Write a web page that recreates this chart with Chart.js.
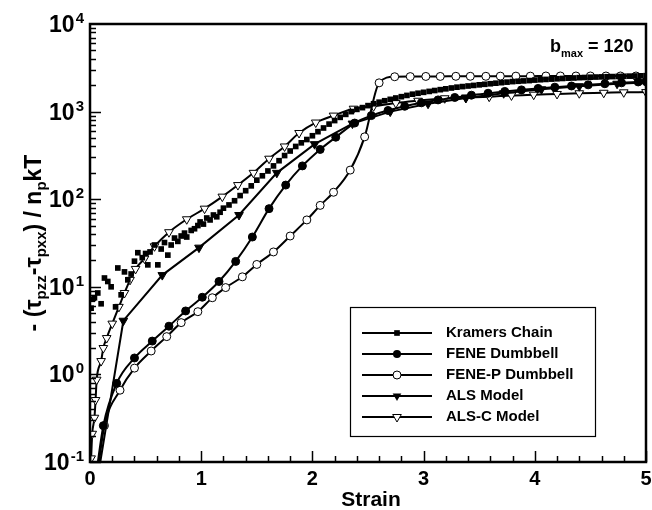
<!DOCTYPE html>
<html>
<head>
<meta charset="utf-8">
<script src="https://cdn.jsdelivr.net/npm/chart.js@4.4.1/dist/chart.umd.min.js"></script>
<style>
  body { margin: 0; background: #fff; }
</style>
</head>
<body>
<canvas id="c" width="652" height="510"></canvas>
<script>
// tick labels
var xTicks = [0, 1, 2, 3, 4, 5];
var yDecades = [-1, 0, 1, 2, 3, 4];

// Kramers chain (scattered squares)
var kramersX = [0.01,0.02,0.04,0.07,0.10,0.13,0.16,0.19,0.23,0.25,0.28,0.31,0.34,0.37,0.40,0.43,0.47,0.50,0.52,0.54,
  0.58,0.61,0.64,0.67,0.70,0.73,0.76,0.79,0.82,0.85,0.87,0.91,0.94,0.97,0.99,1.02,1.05,1.08,1.11,1.14,1.17,1.20,
  1.25,1.30,1.35,1.40,1.45,1.50,1.55,1.60,1.65,1.70,1.75,1.80,1.85,1.90,1.95,2.00,2.05,2.10,2.15,2.20,2.25,2.30,
  2.35,2.40,2.45,2.50,2.55,2.60,2.65,2.70,2.75,2.80,2.85,2.90,2.95,3.00,3.05,3.10,3.15,3.20,3.25,3.30,3.35,3.40,
  3.45,3.50,3.55,3.60,3.65,3.70,3.75,3.80,3.85,3.90,3.95,4.00,4.05,4.10,4.15,4.20,4.25,4.30,4.35,4.40,4.45,4.50,
  4.55,4.60,4.65,4.70,4.75,4.80,4.85,4.90,4.95,5.00];
var kramersY = [5.7,7.2,7.5,8.5,6.4,12.6,11.5,10,5.9,16.4,8.1,14.8,12,14,19.6,24.5,21.5,24,17.8,25,
  30,17.8,27,32,23,30,36,33,38,41,37,44,46,50,55,52,61,58,66,63,71,79,
  86,96,110,125,142,165,185,210,240,275,315,355,400,440,480,530,590,650,720,790,860,930,
  1000,1060,1110,1170,1230,1280,1330,1380,1430,1480,1530,1580,1620,1660,1700,1740,1780,1820,1860,1900,1930,1960,
  1990,2020,2050,2080,2110,2140,2170,2200,2220,2240,2260,2290,2310,2330,2350,2370,2390,2410,2420,2440,2450,2470,
  2480,2490,2500,2510,2520,2530,2540,2550,2560,2570];

// FENE dumbbell
var feneX = [0.06,0.12,0.24,0.40,0.56,0.71,0.86,1.01,1.16,1.31,1.46,1.61,1.76,1.91,2.07,2.21,2.38,2.53,2.68,2.83,
  2.98,3.13,3.28,3.43,3.58,3.73,3.88,4.03,4.18,4.33,4.48,4.63,4.78,4.93,5.00];
var feneY = [0.08,0.26,0.79,1.54,2.4,3.55,5.3,7.6,11.5,19.5,37,78,145,240,370,510,740,900,1030,1150,
  1260,1360,1450,1540,1620,1700,1770,1840,1900,1960,2020,2080,2130,2180,2200];

// FENE-P dumbbell
var fenepX = [0.07,0.13,0.27,0.40,0.55,0.69,0.82,0.97,1.10,1.22,1.37,1.50,1.65,1.80,1.95,2.07,2.19,2.34,2.47,2.60,
  2.74,2.88,3.02,3.15,3.29,3.42,3.56,3.69,3.83,3.96,4.10,4.23,4.37,4.50,4.64,4.77,4.91];
var fenepY = [0.08,0.26,0.66,1.18,1.85,2.7,3.9,5.2,7.5,9.8,13,18,25,38,58,85,120,215,515,2130,
  2500,2510,2520,2520,2530,2530,2530,2540,2540,2540,2550,2550,2550,2550,2550,2550,2550];

// ALS model
var alsX = [0.08,0.30,0.65,0.98,1.34,1.68,2.02,2.36,2.70,3.04,3.38,3.72,4.06,4.40,4.74,5.00];
var alsY = [0.08,4.1,13.6,28,66,200,425,730,1000,1230,1430,1620,1800,1950,2080,2150];

// ALS-C model
var alscX = [0.01,0.02,0.04,0.05,0.06,0.10,0.12,0.15,0.20,0.26,0.31,0.36,0.41,0.49,0.58,0.71,0.87,1.03,1.19,1.33,
  1.47,1.61,1.75,1.88,2.03,2.19,2.37,2.55,2.75,2.95,3.19,3.38,3.59,3.79,3.99,4.20,4.40,4.62,4.80,5.00];
var alscY = [0.11,0.21,0.32,0.51,0.87,1.42,2.0,2.6,3.8,5.9,8.5,12,16,21,29,42,59,78,107,145,
  200,290,400,570,750,900,1080,1150,1250,1330,1420,1450,1480,1530,1560,1590,1620,1640,1660,1670];

var seriesNames = ['Kramers Chain', 'FENE Dumbbell', 'FENE-P Dumbbell', 'ALS Model', 'ALS-C Model'];

function pts(xs, ys) {
  return xs.map(function(v, i) { return {x: v, y: ys[i]}; });
}

var marks = [
  {style: 'rect', fill: '#000', r: 4, rot: 0},
  {style: 'circle', fill: '#000', r: 4, rot: 0},
  {style: 'circle', fill: '#fff', r: 4, rot: 0},
  {style: 'triangle', fill: '#000', r: 5, rot: 180},
  {style: 'triangle', fill: '#fff', r: 5, rot: 180}
];

function lineSet(name, data, m, tension) {
  return {
    label: name,
    data: data,
    showLine: true,
    borderColor: '#000',
    borderWidth: 2,
    tension: tension,
    cubicInterpolationMode: tension ? 'monotone' : 'default',
    pointStyle: m.style,
    pointRotation: m.rot,
    pointRadius: m.r,
    pointBackgroundColor: m.fill,
    pointBorderColor: '#000',
    pointBorderWidth: 1,
    clip: 0
  };
}

function drawMark(ctx, m, x, y) {
  ctx.save();
  ctx.fillStyle = m.fill;
  ctx.strokeStyle = '#000';
  ctx.lineWidth = 1;
  ctx.beginPath();
  if (m.style === 'rect') {
    var s = m.r * Math.SQRT1_2;
    ctx.rect(x - s, y - s, 2 * s, 2 * s);
  } else if (m.style === 'circle') {
    ctx.arc(x, y, m.r, 0, Math.PI * 2);
  } else {
    var h = m.r;
    ctx.moveTo(x, y + h);
    ctx.lineTo(x - h * 0.866, y - h * 0.5);
    ctx.lineTo(x + h * 0.866, y - h * 0.5);
    ctx.closePath();
  }
  ctx.fill();
  if (m.fill === '#fff') ctx.stroke();
  ctx.restore();
}

// text with subscripts: parts = [[text, isSub], ...]
function richWidth(ctx, parts, big, small) {
  var w = 0;
  parts.forEach(function(p) {
    ctx.font = 'bold ' + (p[1] ? small : big) + 'px "Liberation Sans", Arial, sans-serif';
    w += ctx.measureText(p[0]).width;
  });
  return w;
}
function drawRich(ctx, parts, x, y, big, small, drop) {
  parts.forEach(function(p) {
    ctx.font = 'bold ' + (p[1] ? small : big) + 'px "Liberation Sans", Arial, sans-serif';
    ctx.fillText(p[0], x, p[1] ? y + drop : y);
    x += ctx.measureText(p[0]).width;
  });
}

var decor = {
  id: 'decor',
  afterDatasetsDraw: function(chart) {
    var ctx = chart.ctx, a = chart.chartArea;
    var xs = chart.scales.x, ys = chart.scales.y;
    ctx.save();
    ctx.strokeStyle = '#000';
    ctx.fillStyle = '#000';

    // y ticks (inside, left)
    ctx.lineWidth = 1.5;
    for (var k = -1; k < 4; k++) {
      for (var m = 1; m < 10; m++) {
        var py = Math.round(ys.getPixelForValue(m * Math.pow(10, k))) + 0.5;
        ctx.beginPath();
        ctx.moveTo(a.left, py);
        ctx.lineTo(a.left + (m === 1 ? 11 : 6), py);
        ctx.stroke();
      }
    }
    // x ticks (inside, bottom)
    for (var v = 0; v <= 25; v++) {
      var px = Math.round(xs.getPixelForValue(v / 5)) + 0.5;
      ctx.beginPath();
      ctx.moveTo(px, a.bottom);
      ctx.lineTo(px, a.bottom - (v % 5 === 0 ? 11 : 6));
      ctx.stroke();
    }

    // frame
    ctx.lineWidth = 2.5;
    ctx.strokeRect(a.left, a.top, a.right - a.left, a.bottom - a.top);

    // x tick labels
    ctx.font = 'bold 20px "Liberation Sans", Arial, sans-serif';
    ctx.textAlign = 'center';
    ctx.textBaseline = 'alphabetic';
    xTicks.forEach(function(t) {
      ctx.fillText(String(t), xs.getPixelForValue(t), 485);
    });
    ctx.font = 'bold 21px "Liberation Sans", Arial, sans-serif';
    ctx.fillText('Strain', 371, 506);

    // y tick labels 10^k
    ctx.textAlign = 'left';
    yDecades.forEach(function(d) {
      var py = ys.getPixelForValue(Math.pow(10, d));
      var e = String(d);
      ctx.font = 'bold 15px "Liberation Sans", Arial, sans-serif';
      var ew = ctx.measureText(e).width;
      ctx.font = 'bold 23px "Liberation Sans", Arial, sans-serif';
      var bw = ctx.measureText('10').width;
      var right = 84;
      ctx.fillText('10', right - ew - bw - 1, py + 8);
      ctx.font = 'bold 15px "Liberation Sans", Arial, sans-serif';
      ctx.fillText(e, right - ew, py - 1);
    });

    // y axis title
    var title = [['- (', 0], ['\u03c4', 0], ['pzz', 1], ['-', 0], ['\u03c4', 0], ['pxx', 1],
                 [') / n', 0], ['p', 1], ['kT', 0]];
    ctx.save();
    ctx.translate(41, 243);
    ctx.rotate(-Math.PI / 2);
    var tw = richWidth(ctx, title, 23, 15);
    drawRich(ctx, title, -tw / 2, 0, 23, 15, 5);
    ctx.restore();

    // b_max annotation
    drawRich(ctx, [['b', 0], ['max', 1], [' = 120', 0]], 550, 52, 18, 11, 5);

    // legend
    ctx.lineWidth = 1.2;
    ctx.strokeRect(350.5, 307.5, 245, 129);
    seriesNames.forEach(function(name, i) {
      var ly = 333 + i * 21;
      ctx.lineWidth = 2.2;
      ctx.beginPath();
      ctx.moveTo(362, ly);
      ctx.lineTo(432, ly);
      ctx.stroke();
      drawMark(ctx, marks[i], 397, ly);
      ctx.fillStyle = '#000';
      ctx.font = 'bold 15px "Liberation Sans", Arial, sans-serif';
      ctx.textBaseline = 'middle';
      ctx.fillText(name, 446, ly);
      ctx.textBaseline = 'alphabetic';
    });
    ctx.restore();
  }
};

var kramersSet = {
  label: seriesNames[0],
  data: pts(kramersX, kramersY),
  showLine: false,
  pointStyle: 'rect',
  pointRadius: 4,
  pointBackgroundColor: '#000',
  pointBorderColor: '#000',
  pointBorderWidth: 0,
  clip: 0
};

new Chart(document.getElementById('c'), {
  type: 'scatter',
  data: {
    datasets: [
      kramersSet,
      lineSet(seriesNames[1], pts(feneX, feneY), marks[1], 0.4),
      lineSet(seriesNames[2], pts(fenepX, fenepY), marks[2], 0.4),
      lineSet(seriesNames[3], pts(alsX, alsY), marks[3], 0),
      lineSet(seriesNames[4], pts(alscX, alscY), marks[4], 0.4)
    ]
  },
  options: {
    responsive: false,
    animation: false,
    layout: { padding: { left: 90, top: 24, right: 2, bottom: 48 } },
    plugins: { legend: { display: false }, tooltip: { enabled: false } },
    scales: {
      x: { type: 'linear', min: 0, max: 5, display: false },
      y: { type: 'logarithmic', min: 0.1, max: 10000, display: false }
    }
  },
  plugins: [decor]
});
</script>
</body>
</html>
